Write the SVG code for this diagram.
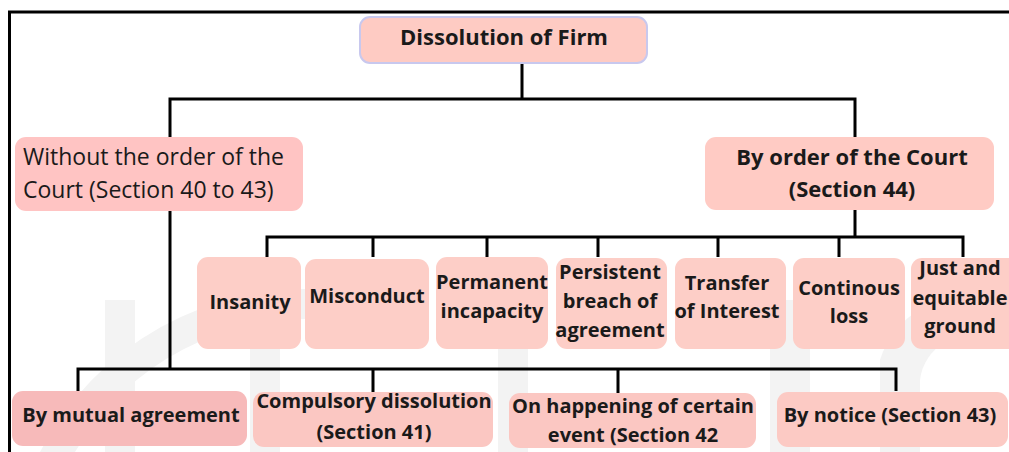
<svg xmlns="http://www.w3.org/2000/svg" width="1009" height="452" viewBox="0 0 1009 452">
<style>
.b{fill:#fdcec7;}
.t{font-family:"Open Sans","Liberation Sans",sans-serif;font-weight:bold;font-size:20px;fill:#1a1a1a;text-anchor:middle;}
.r{font-family:"Open Sans","Liberation Sans",sans-serif;font-size:23px;fill:#1a1a1a;}
.c{fill:none;stroke:#000;stroke-width:3;}
.wm{fill:#f3f3f3;}
</style>
<rect width="1009" height="452" fill="#fff"/>
<g id="watermark">
<path class="wm" d="M40 452 A300 300 0 0 1 330 290 L330 320 A270 270 0 0 0 75 452 Z"/>
<rect class="wm" x="105" y="300" width="30" height="152"/>
<rect class="wm" x="250" y="300" width="30" height="152"/>
<rect class="wm" x="498" y="300" width="30" height="152"/>
<rect class="wm" x="770" y="300" width="40" height="152"/>
<path class="wm" d="M880 452 L880 360 A90 90 0 0 1 990 300 L1009 300 L1009 340 L990 340 A50 50 0 0 0 920 380 L920 452 Z"/>
</g>
<g id="frame" fill="none" stroke="#000" stroke-width="3">
<path d="M9.5 452 V12 H1009"/>
</g>
<g id="connectors" class="c">
<path d="M522 63 V99 M170 137 V99 H855 V137"/>
<path d="M855 210 V237 M267 257 V237 H963 V257 M373 237 V257 M487 237 V257 M598 237 V257 M718 237 V257 M839 237 V257"/>
<path d="M170 211 V369 M78 391 V369 H896 V391 M373 369 V392 M618 369 V393"/>
</g>
<g id="root">
<rect x="360" y="17" width="287" height="46" rx="10" fill="#fecbc3" stroke="#c8c8ee" stroke-width="2"/>
<text class="t" x="504" y="45" style="font-size:22px">Dissolution of Firm</text>
</g>
<g id="without">
<rect x="15" y="137" width="288" height="74" rx="11" fill="#ffc4c3"/>
<text class="r" x="23" y="165">Without the order of the</text>
<text class="r" x="23" y="198">Court (Section 40 to 43)</text>
</g>
<g id="byorder">
<rect x="705" y="137" width="289" height="73" rx="11" fill="#ffcbc4"/>
<text class="t" x="852" y="165" style="font-size:22px">By order of the Court</text>
<text class="t" x="852" y="197" style="font-size:22px">(Section 44)</text>
</g>
<g id="insanity">
<rect class="b" x="197" y="257" width="104" height="92" rx="11"/>
<text class="t" x="250" y="309">Insanity</text>
</g>
<g id="misconduct">
<rect class="b" x="305" y="259" width="124" height="90" rx="11"/>
<text class="t" x="367" y="303">Misconduct</text>
</g>
<g id="permanent">
<rect class="b" x="436" y="257" width="112" height="92" rx="11"/>
<text class="t" x="492" y="289">Permanent</text>
<text class="t" x="492" y="318">incapacity</text>
</g>
<g id="persistent">
<rect class="b" x="556" y="258" width="111" height="91" rx="11"/>
<text class="t" x="610" y="279">Persistent</text>
<text class="t" x="610" y="308">breach of</text>
<text class="t" x="610" y="337">agreement</text>
</g>
<g id="transfer">
<rect class="b" x="675" y="258" width="111" height="91" rx="11"/>
<text class="t" x="727" y="290">Transfer</text>
<text class="t" x="727" y="318">of Interest</text>
</g>
<g id="continous">
<rect class="b" x="793" y="258" width="112" height="91" rx="11"/>
<text class="t" x="849" y="295">Continous</text>
<text class="t" x="849" y="323">loss</text>
</g>
<g id="just">
<rect class="b" x="911" y="258" width="110" height="91" rx="11"/>
<text class="t" x="960" y="275">Just and</text>
<text class="t" x="960" y="305">equitable</text>
<text class="t" x="960" y="333">ground</text>
</g>
<g id="mutual">
<rect x="12" y="391" width="235" height="55" rx="11" fill="#f7baba"/>
<text class="t" x="131" y="422">By mutual agreement</text>
</g>
<g id="compulsory">
<rect x="253" y="392" width="240" height="55" rx="11" fill="#fbc7c2"/>
<text class="t" x="374" y="408">Compulsory dissolution</text>
<text class="t" x="374" y="439">(Section 41)</text>
</g>
<g id="happening">
<rect x="509" y="393" width="247" height="55" rx="11" fill="#fbc7c2"/>
<text class="t" x="633" y="413">On happening of certain</text>
<text class="t" x="633" y="442">event (Section 42</text>
</g>
<g id="notice">
<rect x="777" y="392" width="231" height="55" rx="11" fill="#fccac4"/>
<text class="t" x="890" y="422">By notice (Section 43)</text>
</g>
</svg>
